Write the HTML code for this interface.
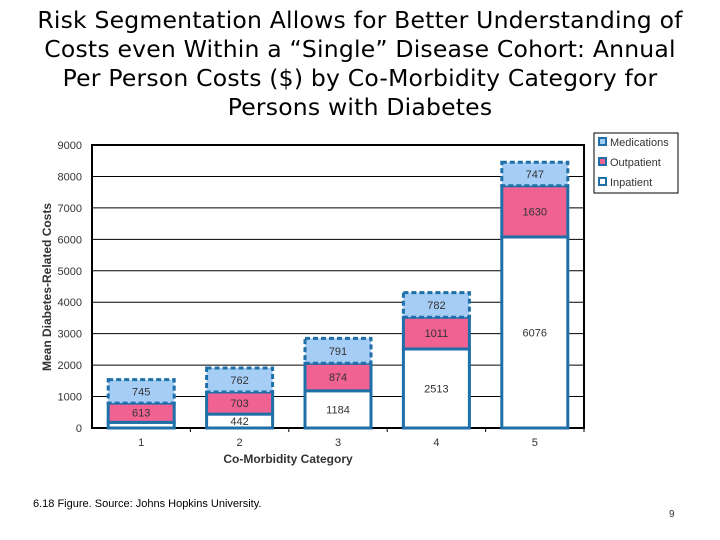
<!DOCTYPE html>
<html><head><meta charset="utf-8"><style>
body{margin:0;background:#fff;width:720px;height:540px;overflow:hidden;font-family:"Liberation Sans",sans-serif}
.title{position:absolute;left:0;top:6px;width:720px;text-align:center;font-family:"DejaVu Sans",sans-serif;font-size:23.5px;line-height:29px;color:#000;letter-spacing:0.2px}
</style></head><body>
<div class="title">Risk Segmentation Allows for Better Understanding of<br>Costs even Within a “Single” Disease Cohort: Annual<br>Per Person Costs ($) by Co-Morbidity Category for<br>Persons with Diabetes</div>
<svg id="chart" width="720" height="540" style="position:absolute;left:0;top:0"></svg>
<div style="position:absolute;left:33px;top:498px;font-size:11px">6.18 Figure. Source: Johns Hopkins University.</div>
<div style="position:absolute;left:669px;top:509px;font-size:10px;color:#333">9</div>
<script>
const categories=["1","2","3","4","5"];
const inpatient=[180,442,1184,2513,6076];
const outpatient=[613,703,874,1011,1630];
const medications=[745,762,791,782,747];
const yTicks=[0,1000,2000,3000,4000,5000,6000,7000,8000,9000];
const inpatientLabels=["","442","1184","2513","6076"];
const svg=document.getElementById('chart');
const NS='http://www.w3.org/2000/svg';
const L=92,R=584,T=145,B=428,YMAX=9000;
const y=v=>B-(v/YMAX)*(B-T);
const step=(R-L)/categories.length;
const xc=i=>L+step*(i+0.5);
const BW=66;
function mk(tag,at,parent){const e=document.createElementNS(NS,tag);for(const k in at)e.setAttribute(k,at[k]);(parent||svg).appendChild(e);return e;}
function txt(x,yy,s,at){const e=mk('text',Object.assign({x:x,y:yy,'font-family':'Liberation Sans, sans-serif'},at));e.textContent=s;return e;}
yTicks.forEach(t=>{
 if(t>0&&t<YMAX){const g=mk('line',{x1:L,x2:R,y1:y(t),y2:y(t),stroke:'#000','stroke-width':1});
 
 }
 const lb=txt(L-10,y(t)+4,String(t),{'font-size':11,'text-anchor':'end',fill:'#333'});
 
 
});
mk('rect',{x:L,y:T,width:R-L,height:B-T,fill:'none',stroke:'#000','stroke-width':2});
categories.forEach((c,i)=>{
 const x0=xc(i)-BW/2;
 const v0=inpatient[i],v1=v0+outpatient[i],v2=v1+medications[i];
 const r1=mk('rect',{x:x0,y:y(v0),width:BW,height:B-y(v0),fill:'#fff',stroke:'#1f6fa8','stroke-width':3});
 
 
 const r2=mk('rect',{x:x0,y:y(v1),width:BW,height:y(v0)-y(v1),fill:'#f06292',stroke:'#1f6fa8','stroke-width':3});
 
 
 const r3=mk('rect',{x:x0,y:y(v2),width:BW,height:y(v1)-y(v2),fill:'#a6cdf5',stroke:'#1f6fa8','stroke-width':3,'stroke-dasharray':'5,3'});
 
 
 if(inpatientLabels[i]){const a=txt(xc(i),(y(0)+y(v0))/2+4,inpatientLabels[i],{'font-size':11,'text-anchor':'middle',fill:'#333'});
 
 }
 const b=txt(xc(i),(y(v0)+y(v1))/2+4,String(outpatient[i]),{'font-size':11,'text-anchor':'middle',fill:'#333'});
 
 
 const d=txt(xc(i),(y(v1)+y(v2))/2+4,String(medications[i]),{'font-size':11,'text-anchor':'middle',fill:'#333'});
 
 
 const xl=txt(xc(i),446,c,{'font-size':11,'text-anchor':'middle',fill:'#333'});
 
 
 const tk=mk('line',{x1:L+step*(i+1),x2:L+step*(i+1),y1:B,y2:B+4,stroke:'#000'});
 
 
});
const xt=txt((L+R)/2-50,463,'Co-Morbidity Category',{'font-size':12,'font-weight':'bold','text-anchor':'middle',fill:'#333'});


const yt=txt(0,0,'Mean Diabetes-Related Costs',{'font-size':12,'font-weight':'bold','text-anchor':'middle',fill:'#333',transform:'translate(51,287) rotate(-90)'});


const lg=mk('rect',{x:594,y:133,width:84,height:60,fill:'#fff',stroke:'#000','stroke-width':1});


[['Medications','#a6cdf5'],['Outpatient','#f06292'],['Inpatient','#fff']].forEach((s,k)=>{
 const yy=143+k*20;
 const sw=mk('rect',{x:599,y:yy-5,width:7,height:7,fill:s[1],stroke:'#1f6fa8','stroke-width':2});
 
 
 const t=txt(610,yy+3,s[0],{'font-size':11,fill:'#333'});
 
 
});
</script>
</body></html>
